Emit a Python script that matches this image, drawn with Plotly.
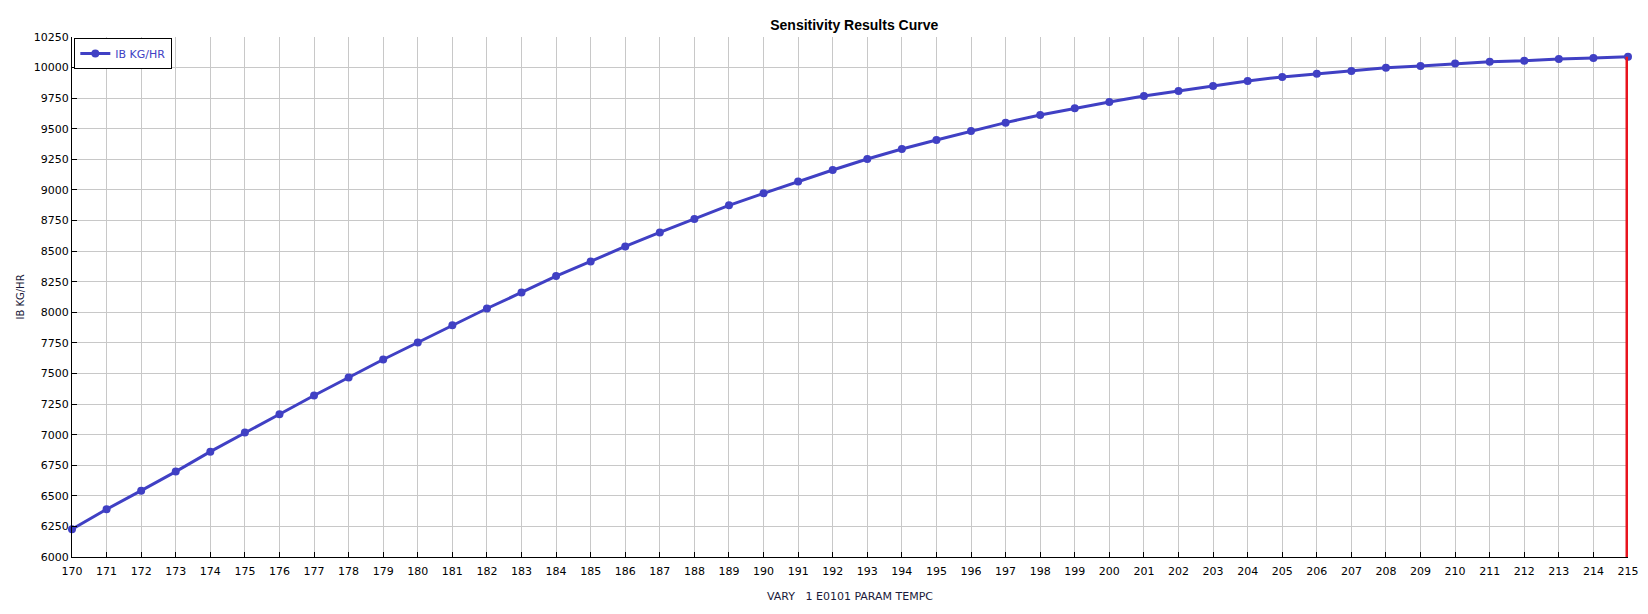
import plotly.graph_objects as go

# ---- data ----
temps = list(range(170, 216))
ib_kg_hr = [
    6227, 6390, 6542, 6698, 6861, 7017, 7167, 7320, 7467, 7614,
    7753, 7894, 8031, 8162, 8296, 8416, 8538, 8653, 8762, 8874,
    8972, 9070, 9163, 9253, 9335, 9408, 9482, 9550, 9613, 9667,
    9719, 9768, 9809, 9850, 9891, 9924, 9950, 9973, 9998, 10014,
    10033, 10047, 10055, 10071, 10079, 10088,
]
x_ticks = list(range(170, 216))
y_ticks = list(range(6000, 10251, 250))
series_name = "IB KG/HR"
x_title = "VARY\u00a0\u00a0\u00a01 E0101 PARAM TEMPC"
y_title = "IB KG/HR"
chart_title = "Sensitivity Results Curve"
y_min, y_max = 6000, 10250

# current-value marker line (red) at the last varied value
marker_x = [temps[-1], temps[-1]]
marker_y = [y_min, ib_kg_hr[-1]]

LINE_COLOR = "#4040C4"
GRID = "#C8C8C8"
TICK_FONT = dict(family="DejaVu Sans", size=11, color="#000000")

fig = go.Figure()
fig.add_trace(go.Scatter(
    x=temps, y=ib_kg_hr, mode="lines+markers", name=series_name,
    line=dict(color=LINE_COLOR, width=3),
    marker=dict(color=LINE_COLOR, size=8),
    cliponaxis=False,
))
fig.add_trace(go.Scatter(
    x=marker_x, y=marker_y, mode="lines", showlegend=False,
    line=dict(color="#E8141E", width=5), hoverinfo="skip",
))

# page body has an 8px default margin, so the figure is sized to fit inside it
fig.update_layout(
    width=1640, height=606,
    paper_bgcolor="white", plot_bgcolor="white",
    margin=dict(l=64, r=20, t=29, b=57, autoexpand=False),
    title=dict(text=chart_title, x=0.516, xanchor="center", y=0.972, yanchor="middle",
               font=dict(family="Liberation Sans", size=14, color="#000000", weight="bold")),
    legend=dict(x=0.0015, y=0.998, xanchor="left", yanchor="top",
                bgcolor="white", bordercolor="#000000", borderwidth=1,
                font=dict(family="DejaVu Sans", size=11, color=LINE_COLOR),
                itemwidth=30, tracegroupgap=0),
    showlegend=True,
)
fig.update_xaxes(
    range=[170, 215], tickmode="array", tickvals=x_ticks,
    ticktext=[str(v) for v in x_ticks],
    showgrid=True, gridcolor=GRID, gridwidth=1,
    showline=True, linecolor="#000000", linewidth=1.3,
    ticks="inside", ticklen=5, tickcolor="#000000",
    tickfont=TICK_FONT, zeroline=False, automargin=False,
    ticklabelstandoff=4,
    title=dict(text=x_title, standoff=14,
               font=dict(family="DejaVu Sans", size=11, color="#1a1a3a")),
)
fig.update_yaxes(
    range=[y_min, y_max], tickmode="array", tickvals=y_ticks,
    ticktext=[str(v) for v in y_ticks],
    showgrid=True, gridcolor=GRID, gridwidth=1,
    showline=True, linecolor="#000000", linewidth=1.3,
    ticks="inside", ticklen=5, tickcolor="#000000",
    tickfont=TICK_FONT, zeroline=False, automargin=False,
    title=dict(text=y_title, standoff=7,
               font=dict(family="DejaVu Sans", size=10, color="#1a1a3a")),
)

fig.write_html("out.html")
